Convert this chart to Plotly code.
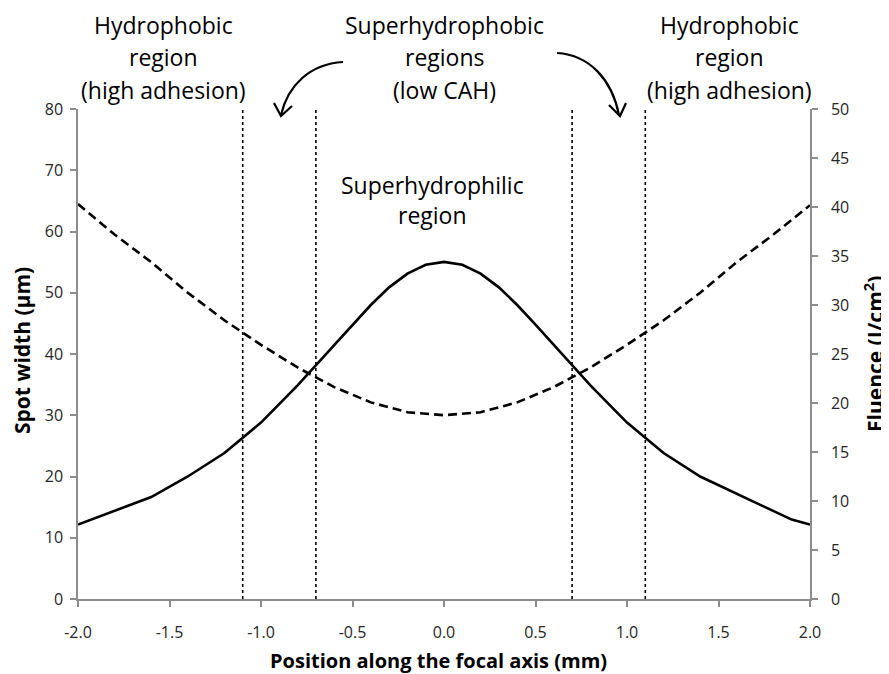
import plotly.graph_objects as go

# ---- data ----
width_x = [-2.0, -1.8, -1.6, -1.4, -1.2, -1.0, -0.8, -0.6, -0.4, -0.2, 0.0,
           0.2, 0.4, 0.6, 0.8, 1.0, 1.2, 1.4, 1.6, 1.8, 2.0]
spot_width = [64.5, 59.5, 55.0, 50.0, 45.5, 41.5, 37.8, 34.6, 32.1, 30.5, 30.0,
              30.5, 32.1, 34.6, 37.8, 41.5, 45.5, 50.0, 55.0, 59.5, 64.3]

fluence_x = [-2.0, -1.6, -1.4, -1.2, -1.0, -0.8, -0.6, -0.5, -0.4, -0.3, -0.2, -0.1, 0.0,
             0.1, 0.2, 0.3, 0.4, 0.5, 0.6, 0.8, 1.0, 1.2, 1.4, 1.9, 2.0]
fluence = [7.6, 10.4, 12.5, 14.9, 18.0, 21.8, 25.9, 28.0, 30.0, 31.8, 33.2, 34.1, 34.4,
           34.1, 33.2, 31.8, 30.0, 28.0, 25.9, 21.8, 18.0, 14.9, 12.5, 8.1, 7.6]

boundaries = [-1.1, -0.7, 0.7, 1.1]

x_ticks = [-2.0, -1.5, -1.0, -0.5, 0.0, 0.5, 1.0, 1.5, 2.0]
x_tick_labels = ["-2.0", "-1.5", "-1.0", "-0.5", "0.0", "0.5", "1.0", "1.5", "2.0"]

FONT = "Open Sans"
OFF = 8  # page body margin
W, H = 889, 674
PLOT_L, PLOT_R, PLOT_T, PLOT_B = 78, 810, 109, 599  # screen pixels
L, T = PLOT_L - OFF, PLOT_T - OFF
R, B = W - (PLOT_R - OFF), H - (PLOT_B - OFF)
PW, PH = PLOT_R - PLOT_L, PLOT_B - PLOT_T

def px(x):
    return (x - PLOT_L) / PW

def py(y):
    return (PLOT_B - y) / PH

fig = go.Figure()

for b in boundaries:
    fig.add_trace(go.Scatter(x=[b, b], y=[0, 80], mode="lines",
                             line=dict(color="black", width=1.6, dash="dot"),
                             showlegend=False, hoverinfo="skip"))

fig.add_trace(go.Scatter(x=width_x, y=spot_width, mode="lines", name="Spot width",
                         line=dict(color="black", width=2.6, dash="9px,5px"),
                         showlegend=False))
fig.add_trace(go.Scatter(x=fluence_x, y=fluence, mode="lines", name="Fluence",
                         line=dict(color="black", width=2.6), yaxis="y2",
                         showlegend=False))

axis_col = "#8c8c8c"
tickfont = dict(family=FONT, size=16, color="#262626")
xtitlefont = dict(family=FONT, size=20, color="black", weight="bold")
ytitlefont = dict(family=FONT, size=21, color="black", weight="bold")

common = dict(showgrid=False, zeroline=False, showline=True, linecolor=axis_col,
              linewidth=1.5, ticks="outside", ticklen=6, tickcolor=axis_col,
              tickwidth=1.5, tickfont=tickfont, automargin=False)

fig.update_layout(
    width=W, height=H,
    margin=dict(l=L, r=R, t=T, b=B),
    paper_bgcolor="white", plot_bgcolor="white",
    xaxis=dict(range=[-2, 2], tickvals=x_ticks, ticktext=x_tick_labels,
               ticklabelstandoff=12, **common),
    yaxis=dict(range=[0, 80], dtick=10, ticklabelstandoff=4, **common),
    yaxis2=dict(range=[0, 50], dtick=5, overlaying="y", side="right",
                ticklabelstandoff=10, **common),
)

# axis titles
fig.add_annotation(text="Position along the focal axis (mm)", x=px(438), y=py(660),
                   xref="paper", yref="paper", showarrow=False,
                   xanchor="center", yanchor="middle", font=xtitlefont)
fig.add_annotation(text="Spot width (μm)", x=px(22), y=py(351), textangle=-90,
                   xref="paper", yref="paper", showarrow=False,
                   xanchor="center", yanchor="middle", font=ytitlefont)
fig.add_annotation(text="Fluence (J/cm<sup>2</sup>)", x=px(873), y=py(354), textangle=-90,
                   xref="paper", yref="paper", showarrow=False,
                   xanchor="center", yanchor="middle", font=ytitlefont)

label_font = dict(family=FONT, size=23, color="black")
labels = [
    ("Hydrophobic", 163, 25), ("region", 163, 57), ("(high adhesion)", 163, 90),
    ("Superhydrophobic", 445, 25), ("regions", 445, 57), ("(low CAH)", 445, 90),
    ("Hydrophobic", 729, 25), ("region", 729, 57), ("(high adhesion)", 729, 90),
    ("Superhydrophilic", 432, 185), ("region", 432, 215),
]
for text, x, y in labels:
    fig.add_annotation(text=text, x=px(x), y=py(y), xref="paper", yref="paper",
                       showarrow=False, xanchor="center", yanchor="middle",
                       font=label_font)

def curve_path(p0, c1, c2, p1):
    return "M {} {} C {} {}, {} {}, {} {}".format(
        px(p0[0]), py(p0[1]), px(c1[0]), py(c1[1]), px(c2[0]), py(c2[1]), px(p1[0]), py(p1[1]))

def head_path(tip, a1, a2):
    return "M {} {} L {} {} L {} {}".format(
        px(a1[0]), py(a1[1]), px(tip[0]), py(tip[1]), px(a2[0]), py(a2[1]))

# left curved arrow
fig.add_shape(type="path", xref="paper", yref="paper",
              path=curve_path((343, 62), (310, 64), (288, 85), (281, 115)),
              line=dict(color="black", width=2.2))
fig.add_shape(type="path", xref="paper", yref="paper",
              path=head_path((281, 116), (274, 103), (292, 106)),
              line=dict(color="black", width=2.2))
# right curved arrow
fig.add_shape(type="path", xref="paper", yref="paper",
              path=curve_path((557, 53), (590, 55), (612, 80), (619, 115)),
              line=dict(color="black", width=2.2))
fig.add_shape(type="path", xref="paper", yref="paper",
              path=head_path((620, 116), (609, 105), (626, 103)),
              line=dict(color="black", width=2.2))

fig.write_html("out.html")
